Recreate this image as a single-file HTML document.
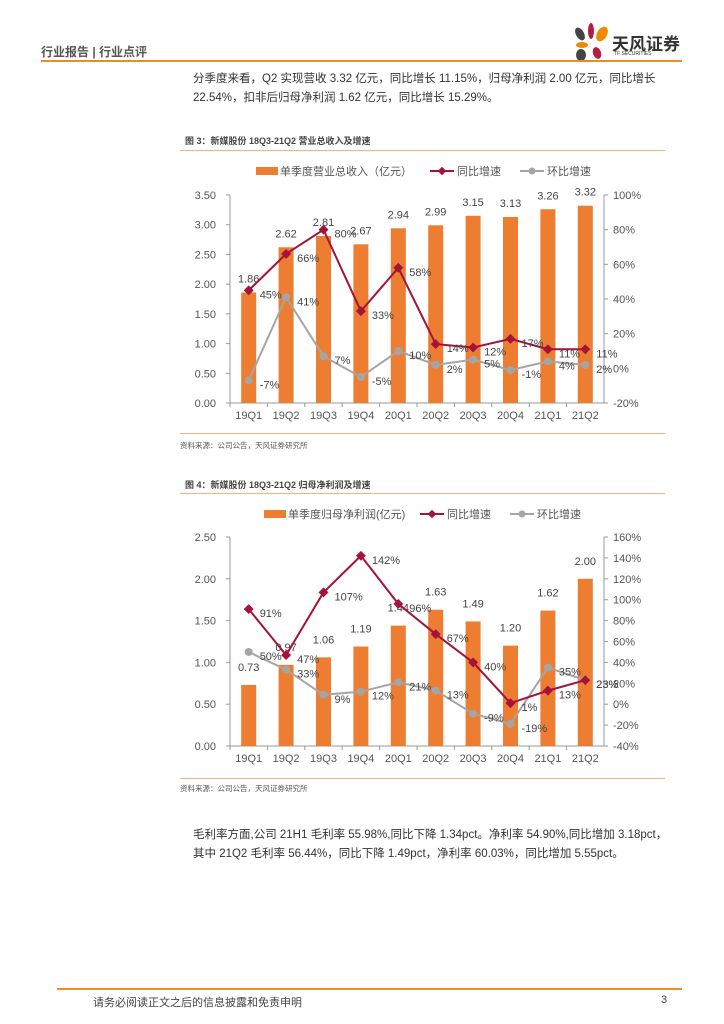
<!DOCTYPE html>
<html><head><meta charset="utf-8">
<style>
body{margin:0;width:724px;height:1024px;background:#fff;position:relative;font-family:"Liberation Sans","Noto Sans CJK SC",sans-serif;color:#333;overflow:hidden}
.a{position:absolute;white-space:nowrap}
.hl{position:absolute;height:2px;background:#f08a24}
.tl{position:absolute;height:1px;background:#f7b37a}
.p{font-size:11.5px;color:#333}
</style></head><body>
<div class="a" style="left:41px;top:43px;font-size:12px;font-weight:bold;color:#555">行业报告 | 行业点评</div>
<div style="position:absolute;left:572px;top:22px;width:40px;height:40px">
<svg width="40" height="40"><ellipse cx="8" cy="12" rx="4" ry="7" fill="#444" transform="rotate(-30 8 12)"/><ellipse cx="19" cy="9" rx="3" ry="8" fill="#b01f3b"/><ellipse cx="30" cy="12" rx="5" ry="8" fill="#f08a00" transform="rotate(30 30 12)"/><ellipse cx="10" cy="23" rx="6" ry="3" fill="#f08a00"/><ellipse cx="9" cy="33" rx="5" ry="6" fill="#444"/><ellipse cx="25" cy="31" rx="4" ry="6" fill="#b01f3b" transform="rotate(-20 25 31)"/></svg></div>
<div class="a" style="left:612px;top:30px;font-size:17px;font-weight:bold;color:#333">天风证券</div>
<div class="a" style="left:614px;top:51px;font-size:5px;color:#333">TF SECURITIES</div>
<div class="hl" style="left:41px;top:60px;width:641px"></div>
<div class="a p" style="left:193px;top:70px;line-height:19px">分季度来看，Q2 实现营收 3.32 亿元，同比增长 11.15%，归母净利润 2.00 亿元，同比增长<br>22.54%，扣非后归母净利润 1.62 亿元，同比增长 15.29%。</div>
<div class="a" style="left:185px;top:134px;font-size:9px;font-weight:bold;color:#444">图 3：新媒股份 18Q3-21Q2 营业总收入及增速</div>
<div class="tl" style="left:180px;top:150px;width:485px"></div>
<div class="tl" style="left:180px;top:433px;width:485px"></div>
<div class="a" style="left:180px;top:440px;font-size:7.5px;color:#555">资料来源：公司公告，天风证券研究所</div>
<div class="a" style="left:185px;top:478px;font-size:9px;font-weight:bold;color:#444">图 4：新媒股份 18Q3-21Q2 归母净利润及增速</div>
<div class="tl" style="left:180px;top:493px;width:485px"></div>
<div class="tl" style="left:180px;top:778px;width:485px"></div>
<div class="a" style="left:180px;top:783px;font-size:7.5px;color:#555">资料来源：公司公告，天风证券研究所</div>
<div class="a p" style="left:193px;top:826px;line-height:19px">毛利率方面,公司 21H1 毛利率 55.98%,同比下降 1.34pct。净利率 54.90%,同比增加 3.18pct，<br>其中 21Q2 毛利率 56.44%，同比下降 1.49pct，净利率 60.03%，同比增加 5.55pct。</div>
<div class="hl" style="left:57px;top:988px;width:625px"></div>
<div class="a" style="left:93px;top:994px;font-size:11px;color:#444">请务必阅读正文之后的信息披露和免责申明</div>
<div class="a" style="left:661px;top:994px;font-size:11px;color:#444">3</div>
<svg id="chart" width="724" height="1024" style="position:absolute;left:0;top:0"></svg>
<script>
const categories=["19Q1","19Q2","19Q3","19Q4","20Q1","20Q2","20Q3","20Q4","21Q1","21Q2"];
const revenue=[1.86,2.62,2.81,2.67,2.94,2.99,3.15,3.13,3.26,3.32];
const revYoy=[45,66,80,33,58,14,12,17,11,11];
const revQoq=[-7,41,7,-5,10,2,5,-1,4,2];
const profit=[0.73,0.97,1.06,1.19,1.44,1.63,1.49,1.20,1.62,2.00];
const profYoy=[91,47,107,142,96,67,40,1,13,23];
const profQoq=[50,33,9,12,21,13,-9,-19,35,23];
const leftTicks1=[0,0.5,1,1.5,2,2.5,3,3.5];
const rightTicks1=[-20,0,20,40,60,80,100];
const leftTicks2=[0,0.5,1,1.5,2,2.5];
const rightTicks2=[-40,-20,0,20,40,60,80,100,120,140,160];
const legend1=["单季度营业总收入（亿元）","同比增速","环比增速"];
const legend2=["单季度归母净利润(亿元)","同比增速","环比增速"];
const svg=document.getElementById('chart');
const NS='http://www.w3.org/2000/svg';
function mk(tag,at,txt){const e=document.createElementNS(NS,tag);for(const k in at)e.setAttribute(k,at[k]);if(txt!==undefined)e.textContent=txt;svg.appendChild(e);return e;}
function draw(cfg){
 const x0=230,x1=604,top=cfg.top,bot=cfg.bot;
 const n=categories.length,step=(x1-x0)/n;
 const xc=i=>x0+step*(i+0.5);
 const yl=v=>bot-(v-cfg.lmin)/(cfg.lmax-cfg.lmin)*(bot-top);
 const yr=v=>bot-(v-cfg.rmin)/(cfg.rmax-cfg.rmin)*(bot-top);
 let e;
 e=mk('line',{x1:x0,y1:top,x2:x0,y2:bot,stroke:'#999'});
 e=mk('line',{x1:x1,y1:top,x2:x1,y2:bot,stroke:'#999'});
 e=mk('line',{x1:x0,y1:bot,x2:x1,y2:bot,stroke:'#999'});
 cfg.lt.forEach(v=>{e=mk('text',{x:x0-14,y:yl(v)+4,'text-anchor':'end','font-size':11,fill:'#555'},v.toFixed(2));
  e=mk('line',{x1:x0-4,y1:yl(v),x2:x0,y2:yl(v),stroke:'#999'});});
 cfg.rt.forEach(v=>{e=mk('text',{x:x1+9,y:yr(v)+4,'font-size':11,fill:'#555'},v+'%');
  e=mk('line',{x1:x1,y1:yr(v),x2:x1+4,y2:yr(v),stroke:'#999'});});
 categories.forEach((c,i)=>{e=mk('text',{x:xc(i),y:bot+16,'text-anchor':'middle','font-size':11,fill:'#555'},c);
  e=mk('line',{x1:x0+step*i,y1:bot,x2:x0+step*i,y2:bot+4,stroke:'#999'});});
 cfg.bars.forEach((v,i)=>{e=mk('rect',{x:xc(i)-7.5,y:yl(v),width:15,height:bot-yl(v),fill:'#ed7d31'});
  e=mk('text',{x:xc(i),y:yl(v)-cfg.lblOff,'text-anchor':'middle','font-size':11,fill:'#444'},v.toFixed(2));});
 [[cfg.qoq,'#a5a5a5','qoq'],[cfg.yoy,'#a5123a','yoy']].forEach(([arr,col,nm])=>{
  e=mk('polyline',{points:arr.map((v,i)=>xc(i)+','+yr(v)).join(' '),fill:'none',stroke:col,'stroke-width':2});
  arr.forEach((v,i)=>{
   if(nm==='yoy'){e=mk('rect',{x:xc(i)-3.5,y:yr(v)-3.5,width:7,height:7,fill:col,transform:`rotate(45 ${xc(i)} ${yr(v)})`});}
   else{e=mk('circle',{cx:xc(i),cy:yr(v),r:4,fill:col});}
   
   e=mk('text',{x:xc(i)+11,y:yr(v)+8,'font-size':11,fill:'#444'},v+'%');
  });
 });
 const ly=cfg.ly,lx=cfg.lx;
 e=mk('rect',{x:lx,y:ly-4,width:22,height:8,fill:'#ed7d31'});
 e=mk('text',{x:lx+24,y:ly+4,'font-size':11,fill:'#555'},cfg.leg[0]);
 e=mk('line',{x1:cfg.l2,y1:ly,x2:cfg.l2+24,y2:ly,stroke:'#a5123a','stroke-width':2});
 e=mk('rect',{x:cfg.l2+9,y:ly-3,width:6,height:6,fill:'#a5123a',transform:`rotate(45 ${cfg.l2+12} ${ly})`});
 e=mk('text',{x:cfg.l2+27,y:ly+4,'font-size':11,fill:'#555'},cfg.leg[1]);
 e=mk('line',{x1:cfg.l3,y1:ly,x2:cfg.l3+24,y2:ly,stroke:'#a5a5a5','stroke-width':2});
 e=mk('circle',{cx:cfg.l3+12,cy:ly,r:3.5,fill:'#a5a5a5'});
 e=mk('text',{x:cfg.l3+27,y:ly+4,'font-size':11,fill:'#555'},cfg.leg[2]);
}
draw({top:195,bot:403,lmin:0,lmax:3.5,rmin:-20,rmax:100,lt:leftTicks1,rt:rightTicks1,bars:revenue,yoy:revYoy,qoq:revQoq,lblOff:10,ly:171,lx:256,l2:430,l3:520,leg:legend1});
draw({top:537,bot:746,lmin:0,lmax:2.5,rmin:-40,rmax:160,lt:leftTicks2,rt:rightTicks2,bars:profit,yoy:profYoy,qoq:profQoq,lblOff:14,ly:514,lx:264,l2:420,l3:510,leg:legend2});
</script>
</body></html>
